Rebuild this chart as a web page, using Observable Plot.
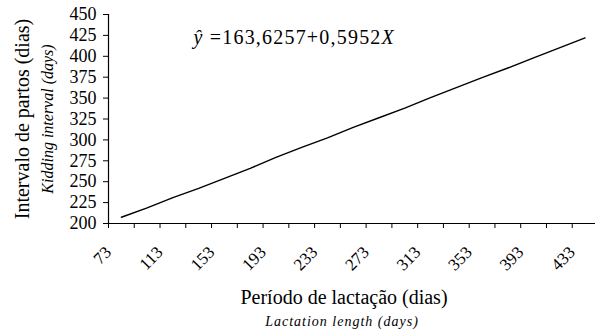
<!DOCTYPE html>
<html><head><meta charset="utf-8">
<script src="https://cdn.jsdelivr.net/npm/d3@7"></script>
<script src="https://cdn.jsdelivr.net/npm/@observablehq/plot@0.6"></script>
<style>
body{margin:0;background:#fff;overflow:hidden}
#chart svg, #chart svg text { font-family: "Liberation Serif", "Times New Roman", serif !important; font-variant: normal !important; }
</style>
</head><body><div id="chart"></div>
<script>
// Lactation length classes (days) – category centers
const lactation = [73, 93, 113, 133, 153, 173, 193, 213, 233, 253, 273, 293, 313, 333, 353, 373, 393, 413, 433];
// Predicted kidding interval (days)
const interval = [207.5, 218.8, 231, 242, 254, 266, 279, 291, 302.5, 315, 326.5, 338, 350.5, 362.5, 374.5, 386, 398, 410, 422];
// Category boundaries (tick marks) and the labelled ones
const xTickMarks = [63, 83, 103, 123, 143, 163, 183, 203, 223, 243, 263, 283, 303, 323, 343, 363, 383, 403, 423];
const xLabelTicks = [63, 103, 143, 183, 223, 263, 303, 343, 383, 423];
const xLabels = ["73", "113", "153", "193", "233", "273", "313", "353", "393", "433"];
const yTicks = [200, 225, 250, 275, 300, 325, 350, 375, 400, 425, 450];
const yTitle = "Intervalo de partos (dias)";
const yTitleEn = "Kidding interval (days)";
const xTitle = "Período de lactação (dias)";
const xTitleEn = "Lactation length (days)";
const equation = "ŷ =163,6257+0,5952X";

const data = lactation.map((x, i) => ({x, y: interval[i]}));
const labelMap = new Map(xLabelTicks.map((t, i) => [t, xLabels[i]]));

const chart = Plot.plot({
  width: 595,
  height: 332,
  marginLeft: 108,
  marginRight: 0,
  marginTop: 14,
  marginBottom: 109,
  style: {fontFamily: "'Liberation Serif', 'Times New Roman', serif", color: "#000", background: "#fff"},
  x: {domain: [63, 441.06]},
  y: {domain: [200, 450]},
  marks: [
    Plot.axisY({ticks: yTicks, tickSize: 5, tickPadding: 7, fontSize: 18, label: null, stroke: "#000"}),
    Plot.axisX({ticks: xTickMarks, tickSize: 5, tickFormat: () => "", label: null, stroke: "#000"}),
    Plot.axisX({ticks: xLabelTicks, tickSize: 0, tickPadding: 26, tickRotate: -45, fontSize: 17, tickFormat: d => labelMap.get(d), label: null}),
    Plot.ruleY([200], {stroke: "#000", strokeWidth: 1.2}),
    Plot.ruleX([63], {stroke: "#000", strokeWidth: 1.2}),
    Plot.line(data, {x: "x", y: "y", stroke: "#000", strokeWidth: 1.4}),
    Plot.text([yTitle], {text: d => d, frameAnchor: "left", dx: -86, rotate: -90, textAnchor: "middle", lineAnchor: "middle", fontSize: 20}),
    Plot.text([yTitleEn], {text: d => d, frameAnchor: "left", dx: -61, rotate: -90, textAnchor: "middle", lineAnchor: "middle", fontSize: 16, fontStyle: "italic"}),
    Plot.text([xTitle], {text: d => d, frameAnchor: "bottom", dx: -8, dy: 74, textAnchor: "middle", lineAnchor: "middle", fontSize: 20}),
    Plot.text([xTitleEn], {text: d => d, frameAnchor: "bottom", dx: -10, dy: 98, textAnchor: "middle", lineAnchor: "middle", fontSize: 14, fontStyle: "italic"}),
    Plot.text([equation], {text: d => d, frameAnchor: "top-left", dx: 85, dy: 23, textAnchor: "start", lineAnchor: "middle", fontSize: 20})
  ]
});
document.getElementById("chart").appendChild(chart);

// Rich formatting for the equation (italic ŷ and X) and letter spacing for the English subtitle
d3.select(chart).selectAll("text").each(function() {
  const t = d3.select(this);
  const s = t.text();
  if (s === equation) {
    t.text(null);
    t.style("font-size", "20px").attr("letter-spacing", "1.2px");
    t.append("tspan").attr("font-style", "italic").text("ŷ");
    t.append("tspan").text(" =163,6257+0,5952");
    t.append("tspan").attr("font-style", "italic").text("X");
  } else if (s === xTitleEn) {
    t.attr("letter-spacing", "1px");
  }
});
</script>
</body></html>
